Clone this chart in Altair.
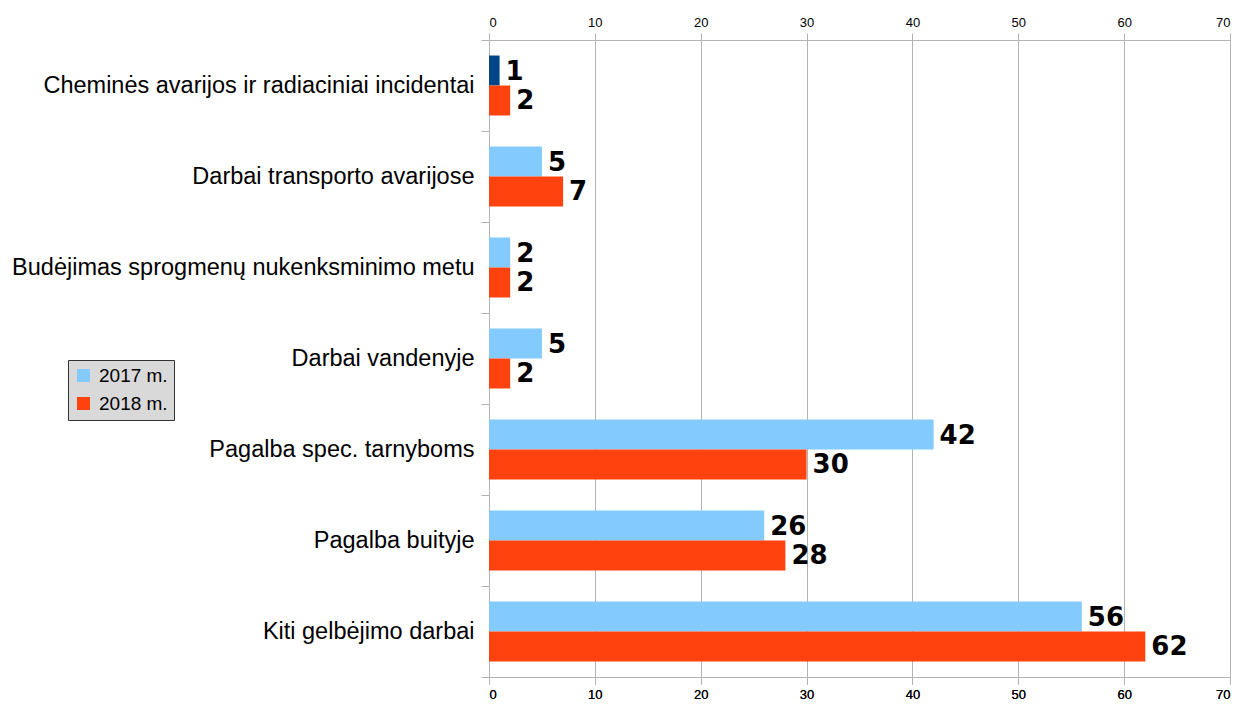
import altair as alt
import pandas as pd

categories = [
    "Cheminės avarijos ir radiaciniai incidentai",
    "Darbai transporto avarijose",
    "Budėjimas sprogmenų nukenksminimo metu",
    "Darbai vandenyje",
    "Pagalba spec. tarnyboms",
    "Pagalba buityje",
    "Kiti gelbėjimo darbai",
]
years = ["2017 m.", "2018 m."]
v2017 = [1, 5, 2, 5, 42, 26, 56]
v2018 = [2, 7, 2, 2, 30, 28, 62]

rows = []
for c, a, b in zip(categories, v2017, v2018):
    rows.append({"cat": c, "year": years[0], "v": a})
    rows.append({"cat": c, "year": years[1], "v": b})
df = pd.DataFrame(rows)

y_enc = alt.Y("cat:N", sort=categories, title=None,
              scale=alt.Scale(paddingInner=0, paddingOuter=0),
              axis=alt.Axis(tickBand="extent", labelFontSize=23.5, labelColor="#000000",
                            labelFont="Liberation Sans", labelPadding=7, tickSize=8,
                            tickColor="#b3b3b3", domain=False, labelLimit=700))
yoff = alt.YOffset("year:N", sort=years,
                   scale=alt.Scale(paddingInner=0, paddingOuter=0.5167))
xscale = alt.Scale(domain=[0, 70], nice=False)
xaxis_common = dict(values=list(range(0, 71, 10)), labelFontSize=13, labelColor="#000000",
                    labelFont="Liberation Sans", tickColor="#b3b3b3", domainColor="#b3b3b3",
                    tickSize=7, labelPadding=4)

color = alt.condition(
    "datum.cat == 'Cheminės avarijos ir radiaciniai incidentai' && datum.year == '2017 m.'",
    alt.value("#004586"),
    alt.Color("year:N", sort=years,
              scale=alt.Scale(domain=years, range=["#83caff", "#ff420e"]),
              legend=alt.Legend(title=None, orient="none", legendX=-421, legendY=320,
                                fillColor="#d9d9d9", strokeColor="#333333", padding=6,
                                symbolType="square", symbolSize=169, symbolStrokeWidth=0,
                                labelFontSize=19, labelFont="Liberation Sans",
                                labelColor="#000000", rowPadding=8, labelOffset=6)),
)

x_bottom = alt.X("v:Q", scale=xscale, title=None,
                 axis=alt.Axis(orient="bottom", gridColor="#b3b3b3", **xaxis_common))

bars = alt.Chart(df).mark_bar(opacity=1).encode(
    x=x_bottom,
    y=y_enc,
    yOffset=yoff,
    color=color,
)

top_axis = alt.Chart(df).mark_bar(opacity=0).encode(
    x=alt.X("v:Q", scale=xscale, title=None,
            axis=alt.Axis(orient="top", grid=False, **xaxis_common)),
    y=y_enc,
    yOffset=yoff,
)

labels = alt.Chart(df).mark_text(align="left", baseline="middle", dx=6, dy=1,
                                 fontSize=26, fontWeight="bold", font="DejaVu Sans",
                                 color="#000000").encode(
    x=x_bottom,
    y=y_enc,
    yOffset=yoff,
    text="v:Q",
)

chart = alt.layer(bars, top_axis, labels).properties(
    width=741, height=637,
    autosize=alt.AutoSizeParams(type="none"),
    padding={"left": 481, "top": 32, "right": 3, "bottom": 28},
).configure_view(stroke=None).configure(background="#ffffff")

chart.save("out.html", embed_options={"renderer": "svg", "actions": False})
